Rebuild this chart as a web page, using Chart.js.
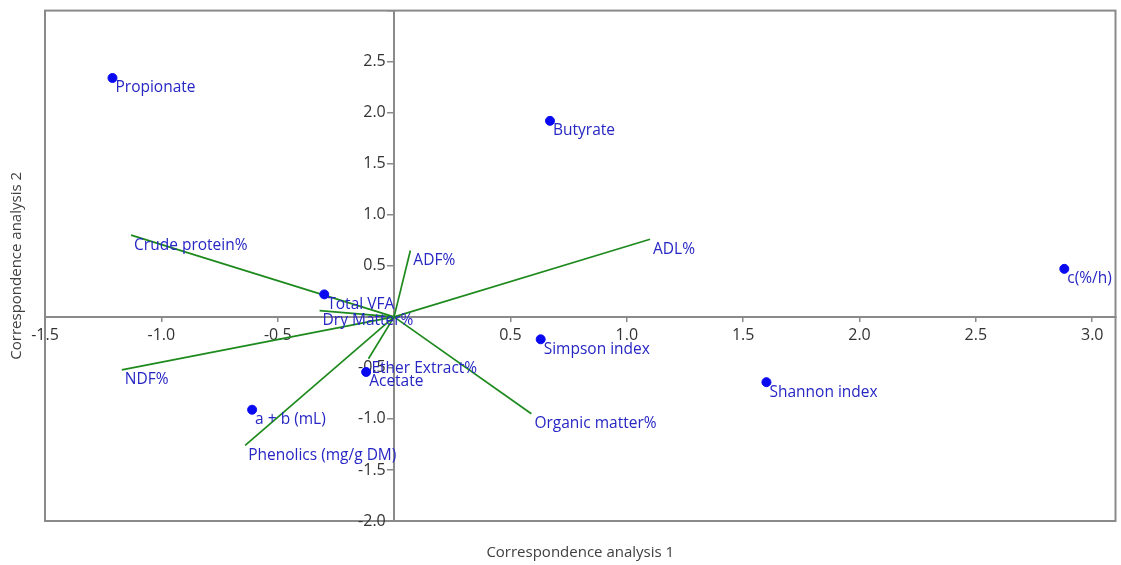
<!DOCTYPE html>
<html>
<head>
<meta charset="utf-8">
<script src="https://cdn.jsdelivr.net/npm/chart.js@4"></script>
<style>
  html, body { margin: 0; padding: 0; background: #fff; }
  #wrap { width: 1121px; height: 565px; }
</style>
</head>
<body>
<div id="wrap"><canvas id="biplot"></canvas></div>
<script>
// Pontos (scores)
const pointNames = ["Propionate", "Butyrate", "c(%/h)", "Total VFA", "Acetate", "a + b (mL)", "Simpson index", "Shannon index"];
const pointX = [-1.21, 0.67, 2.88, -0.30, -0.12, -0.61, 0.63, 1.60];
const pointY = [2.34, 1.92, 0.47, 0.22, -0.54, -0.91, -0.22, -0.64];

// Vetores (loadings)
const vectorNames = ["Crude protein%", "ADF%", "ADL%", "NDF%", "Phenolics (mg/g DM)", "Organic matter%", "Ether Extract%", "Dry Matter%"];
const vectorX = [-1.13, 0.07, 1.10, -1.17, -0.64, 0.59, -0.11, -0.32];
const vectorY = [0.80, 0.65, 0.76, -0.52, -1.26, -0.95, -0.41, 0.06];

// Eixos
const xMin = -1.5, xMax = 3.1, yMin = -2.0, yMax = 3.0, tickStep = 0.5;
const xTitle = "Correspondence analysis 1";
const yTitle = "Correspondence analysis 2";

const FONT = "'Segoe UI', 'Open Sans', 'Noto Sans', sans-serif";
const TEXT_BLUE = '#2626c4';
const GREEN = '#1e8a1e';
const AXIS_GRAY = '#8a8a8a';

const vectorSets = vectorNames.map((n, i) => ({
  label: n,
  type: 'scatter',
  showLine: true,
  data: [{ x: 0, y: 0 }, { x: vectorX[i], y: vectorY[i] }],
  borderColor: GREEN,
  borderWidth: 1.7,
  pointRadius: 0,
  order: 2
}));

const pointSet = {
  label: 'scores',
  type: 'scatter',
  data: pointX.map((x, i) => ({ x: x, y: pointY[i] })),
  backgroundColor: '#0a0af0',
  borderColor: '#0a0af0',
  pointRadius: 4.5,
  order: 1
};

// Moldura, títulos e rótulos
const extras = {
  id: 'extras',
  beforeDraw(chart) {
    const { ctx, chartArea: a } = chart;
    ctx.save();
    ctx.strokeStyle = AXIS_GRAY;
    ctx.lineWidth = 2;
    ctx.strokeRect(a.left, a.top, a.right - a.left, a.bottom - a.top);
    ctx.fillStyle = '#404040';
    ctx.font = "15px " + FONT;
    ctx.textAlign = 'center';
    ctx.textBaseline = 'middle';
    ctx.fillText(xTitle, (a.left + a.right) / 2, 553);
    ctx.translate(17, (a.top + a.bottom) / 2);
    ctx.rotate(-Math.PI / 2);
    ctx.fillText(yTitle, 0, 0);
    ctx.restore();
  },
  afterDatasetsDraw(chart) {
    const { ctx, scales: { x, y } } = chart;
    ctx.save();
    ctx.fillStyle = TEXT_BLUE;
    ctx.font = "15.5px " + FONT;
    ctx.textAlign = 'left';
    ctx.textBaseline = 'middle';
    vectorNames.forEach((n, i) => {
      ctx.fillText(n, x.getPixelForValue(vectorX[i]) + 3, y.getPixelForValue(vectorY[i]) + 10);
    });
    pointNames.forEach((n, i) => {
      ctx.fillText(n, x.getPixelForValue(pointX[i]) + 3, y.getPixelForValue(pointY[i]) + 10);
    });
    ctx.restore();
  }
};

const tickFmt = v => (Math.abs(v) < 1e-9 ? '' : v.toFixed(1));

new Chart(document.getElementById('biplot'), {
  type: 'scatter',
  data: { datasets: [...vectorSets, pointSet] },
  options: {
    responsive: true,
    maintainAspectRatio: false,
    animation: false,
    layout: { padding: { left: 45, top: 8, right: 5, bottom: 44 } },
    plugins: { legend: { display: false }, tooltip: { enabled: false } },
    scales: {
      x: {
        type: 'linear',
        min: xMin, max: xMax,
        position: { y: 0 },
        grid: { drawOnChartArea: false, tickLength: 4, color: AXIS_GRAY, lineWidth: 1.5 },
        border: { color: AXIS_GRAY, width: 2 },
        ticks: {
          stepSize: tickStep, includeBounds: false, autoSkip: false, maxRotation: 0,
          padding: 5, color: '#333', font: { family: FONT, size: 16 },
          callback: tickFmt
        }
      },
      y: {
        type: 'linear',
        min: yMin, max: yMax,
        position: { x: 0 },
        grid: { drawOnChartArea: false, tickLength: 6, color: AXIS_GRAY, lineWidth: 1.5 },
        border: { color: AXIS_GRAY, width: 2 },
        ticks: {
          stepSize: tickStep, autoSkip: false,
          padding: 1, color: '#333', font: { family: FONT, size: 16 },
          // a etiqueta fica colada ao eixo; os espaços afastam-na
          callback: v => (v >= yMax - 1e-9 || Math.abs(v) < 1e-9 ? '' : v.toFixed(1) + '  ')
        }
      }
    }
  },
  plugins: [extras]
});
</script>
</body>
</html>
